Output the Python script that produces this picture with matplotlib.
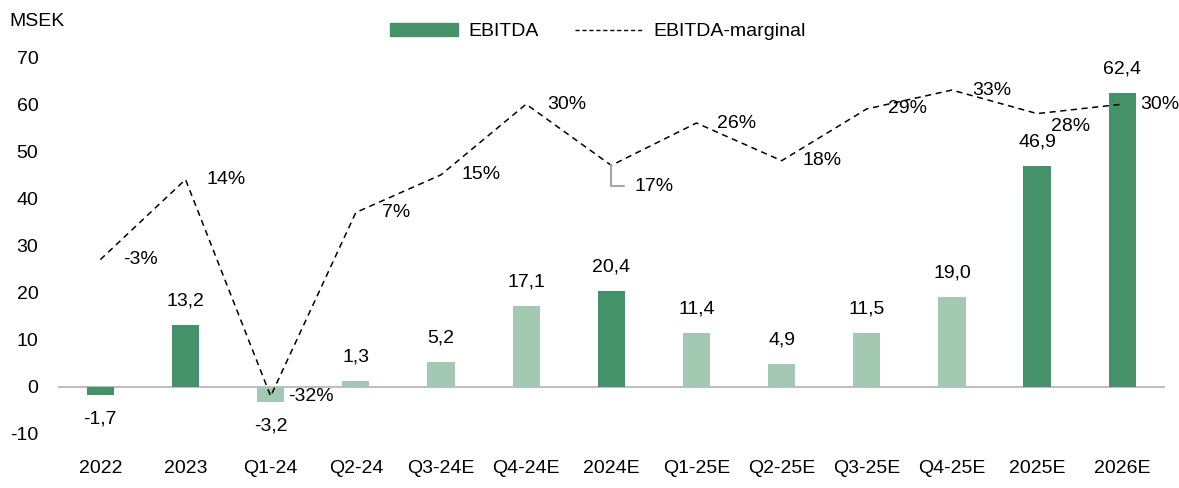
import matplotlib.pyplot as plt
import numpy as np
from matplotlib.patches import Patch
from matplotlib.lines import Line2D

categories = ['2022', '2023', 'Q1-24', 'Q2-24', 'Q3-24E', 'Q4-24E', '2024E',
              'Q1-25E', 'Q2-25E', 'Q3-25E', 'Q4-25E', '2025E', '2026E']
ebitda = [-1.7, 13.2, -3.2, 1.3, 5.2, 17.1, 20.4, 11.4, 4.9, 11.5, 19.0, 46.9, 62.4]
margin = [-3, 14, -32, 7, 15, 30, 17, 26, 18, 29, 33, 28, 30]
is_year = [True, True, False, False, False, False, True, False, False, False, False, True, True]

dark = '#45916a'
light = '#a3c9b2'

plt.rcParams['font.family'] = ['Liberation Sans', 'DejaVu Sans']
plt.rcParams['font.size'] = 14
plt.rcParams['axes.unicode_minus'] = False

fig = plt.figure(figsize=(11.79, 4.88), dpi=100)
ax = fig.add_axes([0.049, 0.111, 0.939, 0.772])

x = np.arange(len(categories))
colors = [dark if y else light for y in is_year]
ax.bar(x, ebitda, width=0.32, color=colors, zorder=2)

ax.set_xlim(-0.5, len(categories) - 0.5)
ax.set_ylim(-10, 70)
ax.set_yticks(range(-10, 71, 10))
ax.set_xticks(x)
ax.set_xticklabels(categories)
ax.tick_params(length=0, labelsize=14)
ax.tick_params(axis='x', pad=19)
ax.tick_params(axis='y', pad=14)
for s in ax.spines.values():
    s.set_visible(False)
ax.axhline(0, color='#bfbfbf', lw=1.5, zorder=1)

# bar value labels
for xi, v in zip(x, ebitda):
    txt = f'{v:.1f}'.replace('.', ',')
    if v >= 0:
        ax.annotate(txt, (xi, v), xytext=(0, 11), textcoords='offset points',
                    ha='center', va='bottom')
    else:
        ax.annotate(txt, (xi, v), xytext=(0, -11), textcoords='offset points',
                    ha='center', va='top')

# margin line on a hidden secondary axis
ax2 = ax.twinx()
ax2.set_ylim(-40, 40)
ax2.axis('off')
ax2.plot(x, margin, color='black', lw=1.1, ls=(0, (4, 3)), zorder=3)

offsets = {i: (29, 0) for i in range(len(margin))}
offsets[11] = (24, -9)
offsets[12] = (27, 0)
for i, (xi, m) in enumerate(zip(x, margin)):
    if i == 6:
        ax2.annotate(f'{m}%', (xi, m), xytext=(17, -15), textcoords='offset points',
                     ha='left', va='center',
                     arrowprops=dict(arrowstyle='-', color='#a6a6a6', lw=1.5,
                                     connectionstyle='angle,angleA=0,angleB=90,rad=0',
                                     relpos=(0, 0.5), shrinkA=6, shrinkB=0))
    else:
        dx, dy = offsets[i]
        ax2.annotate(f'{m}%', (xi, m), xytext=(dx, dy), textcoords='offset points',
                     ha='center', va='center')

# legend
handles = [Patch(color=dark, label='EBITDA'),
           Line2D([0], [0], color='black', lw=1, ls=(0, (3, 2)), label='EBITDA-marginal')]
fig.legend(handles=handles, loc='center', bbox_to_anchor=(0.507, 0.935), ncol=2,
           frameon=False, handlelength=3.5, handleheight=0.6,
           columnspacing=1.9, handletextpad=0.5)

fig.text(0.008, 0.955, 'MSEK', va='center', ha='left')

fig.savefig('out.png', dpi=100)
